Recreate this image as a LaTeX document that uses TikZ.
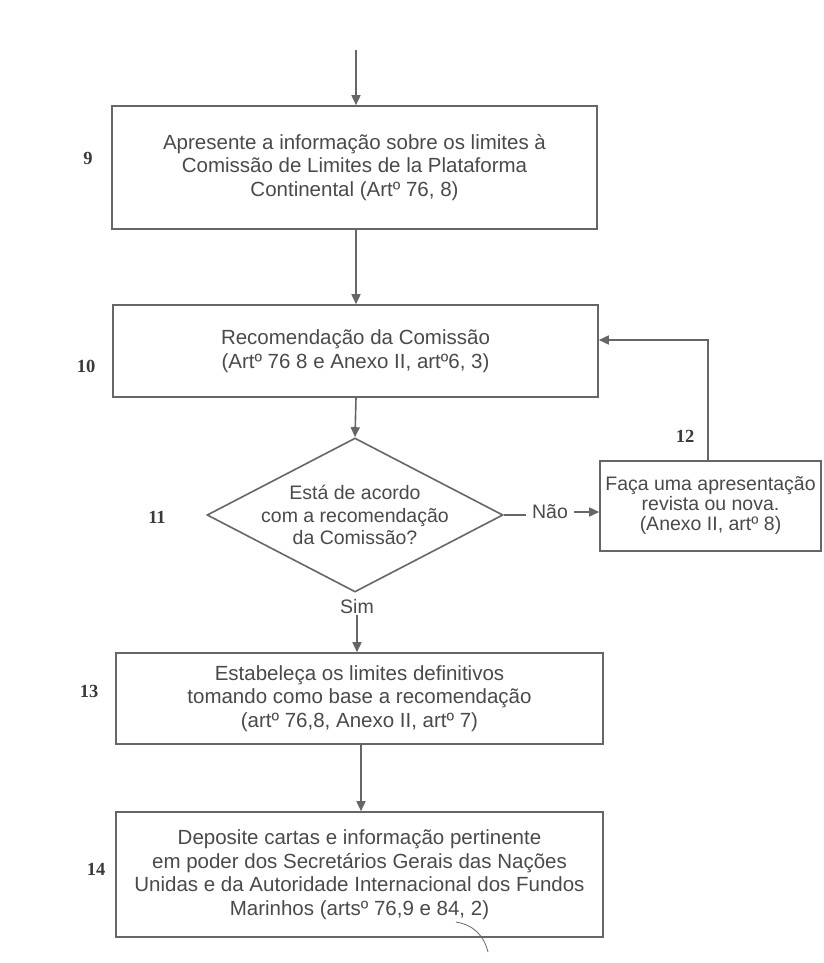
\documentclass[tikz,border=0pt]{standalone}
\usepackage{fontspec}
\setmainfont{Liberation Sans}
\newfontfamily\labfont{Liberation Serif}
\usetikzlibrary{arrows.meta,shapes.geometric}
\definecolor{ink}{HTML}{4A4A4A}
\definecolor{linec}{HTML}{666666}
\definecolor{labc}{HTML}{3A3A3A}
\tikzset{
  box/.style={draw=linec, line width=1.6pt, rectangle, inner sep=0pt, align=center, text=ink,
              font=\fontsize{20.5}{23.5}\selectfont},
  smallbox/.style={box, font=\fontsize{19.5}{20}\selectfont},
  decision/.style={draw=linec, line width=1.6pt, diamond, inner sep=0pt, minimum width=296pt, minimum height=154pt},
  dtext/.style={align=center, text=ink, inner sep=0pt, font=\fontsize{19.5}{22.5}\selectfont},
  lbl/.style={text=ink, inner sep=1pt, font=\fontsize{19.5}{22}\selectfont},
  numlab/.style={text=labc, inner sep=0pt, font=\labfont\bfseries\fontsize{18.5}{18.5}\selectfont},
  arr/.style={draw=linec, line width=1.6pt, -{Triangle[length=10pt,width=9pt]}},
  ln/.style={draw=linec, line width=1.6pt}
}
\begin{document}
\begin{tikzpicture}[x=1pt,y=-1pt]
\useasboundingbox[fill=white] (0,0) rectangle (823,963);

% boxes
\node[box, minimum width=485pt, minimum height=123pt] (b9) at (354.5,167.5)
  {Apresente a informação sobre os limites à\\Comissão de Limites de la Plataforma\\Continental (Artº 76, 8)};
\node[box, minimum width=485pt, minimum height=92pt] (b10) at (355.5,351)
  {Recomendação da Comissão\\(Artº 76 8 e Anexo II, artº6, 3)};
\node[decision] (d11) at (355,515) {};
\node[dtext] (d11t) at (d11.center) {Está de acordo\\com a recomendação\\da Comissão?};
\node[smallbox, minimum width=221pt, minimum height=90pt] (b12) at (710.5,506)
  {Faça uma apresentação\\revista ou nova.\\(Anexo II, artº 8)};
\node[box, minimum width=487pt, minimum height=91pt] (b13) at (359.5,698.5)
  {Estabeleça os limites definitivos\\tomando como base a recomendação\\(artº 76,8, Anexo II, artº 7)};
\node[box, minimum width=487pt, minimum height=125pt] (b14) at (359.5,874.5)
  {Deposite cartas e informação pertinente\\em poder dos Secretários Gerais das Nações\\Unidas e da Autoridade Internacional dos Fundos\\Marinhos (artsº 76,9 e 84, 2)};

% branch labels
\node[lbl, inner xsep=6pt] (nao) at (550,512) {Não};
\node[lbl] (sim) at (357,607) {Sim};

% step numbers
\node[numlab] (n9) at (88,158) {9};
\node[numlab] (n10) at (86,366) {10};
\node[numlab] (n11) at (157,517) {11};
\node[numlab] (n12) at (685,436) {12};
\node[numlab] (n13) at (89,691) {13};
\node[numlab] (n14) at (96,869) {14};

% connectors
\coordinate (top) at (356,50);
\draw[arr] (top) -- (b9.north -| top);
\draw[arr] (b9.south -| top) -- (b10.north -| top);
\draw[arr] (b10.south -| top) -- (d11.north);
\draw[ln] (d11.east) -- (nao.west |- d11.east);
\draw[arr] (nao.east) -- (b12.west |- nao.east);
\coordinate (lp) at (708,340);
\draw[arr] (b12.north -| lp) -- (lp) -- (b10.east |- lp);
\draw[arr] (sim.south) -- (b13.north -| sim.south);
\coordinate (ax) at (361,0);
\draw[arr] (b13.south -| ax) -- (b14.north -| ax);

% pen mark on the scan
\draw[linec, line width=0.8pt] (456,922) .. controls (474,925) and (484,936) .. (488,952);
\end{tikzpicture}
\end{document}
